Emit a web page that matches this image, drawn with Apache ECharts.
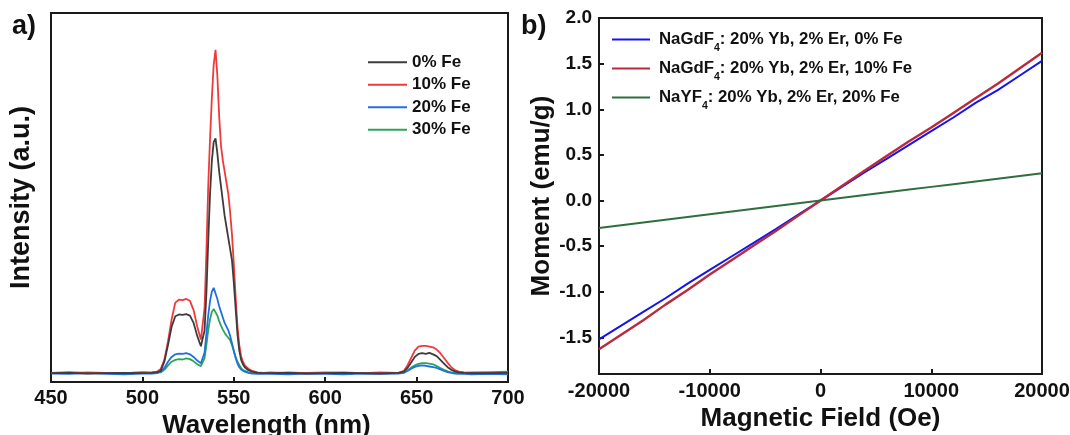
<!DOCTYPE html>
<html>
<head>
<meta charset="utf-8">
<script src="https://cdn.jsdelivr.net/npm/echarts@6/dist/echarts.min.js"></script>
<style>
html,body{margin:0;padding:0;background:#fff;}
#c{width:1070px;height:435px;}
</style>
</head>
<body>
<div id="c"></div>
<script>
// ---------- Panel a: emission spectra ----------
const wavelength = [450,460,470,480,490,500,505,508,510,512,514,516,518,520,522,524,526,528,530,532,533,534,535,536,537,538,539,540,541,542,543,544,545,546,547,548,549,550,551,552,553,554,555,556,558,560,563,566,570,580,590,600,610,620,630,640,643,645,647,649,651,653,655,657,659,661,663,665,667,669,671,673,676,680,690,700];
const fe0  = [2.4,2.5,2.3,2.4,2.5,2.4,2.5,2.7,3.0,5.5,10,15,17.8,18.3,18.2,18.4,18.0,16,12.5,9.7,9.5,14,24,38,51,60,65,66,62,57,53,49,45,42,39,36,33,27,20,13,8.5,6,4.8,4,3.2,2.8,2.5,2.4,2.4,2.5,2.3,2.4,2.5,2.4,2.3,2.5,2.8,3.8,5.3,6.8,7.6,7.8,7.6,7.9,7.5,7.0,6.0,5.0,4.0,3.3,2.9,2.6,2.5,2.4,2.4,2.5];
const fe10 = [2.5,2.7,2.4,2.5,2.4,2.6,2.6,2.8,3.5,6,11,17,21.5,22.3,22.2,22.5,22.0,19.5,15,11.5,11.4,20,35,53,66,77,86,90,83,72,64,60,57,54,51,46,40,32,23,15,10,7,5.5,4.5,3.6,3.0,2.6,2.5,2.4,2.6,2.4,2.5,2.6,2.4,2.5,2.5,3.0,4.5,6.5,8.5,9.6,9.8,9.8,9.6,9.4,8.8,7.8,6.5,5.2,4.0,3.2,2.8,2.6,2.5,2.4,2.6];
const fe20 = [2.3,2.2,2.4,2.2,2.1,2.3,2.3,2.4,2.8,3.8,5.5,6.8,7.5,7.7,7.6,7.8,7.5,6.8,5.8,5.1,5.2,8,13,18,22,24.5,25.5,25,22.5,20.5,19,17.5,16,15,14,12.5,10.5,8.5,6.5,5,4,3.4,3,2.8,2.5,2.3,2.2,2.3,2.2,2.1,2.3,2.2,2.1,2.3,2.2,2.3,2.5,3.0,3.6,4.1,4.4,4.5,4.4,4.2,4.0,3.8,3.4,3.0,2.7,2.5,2.3,2.2,2.2,2.1,2.2,2.1];
const fe30 = [2.5,2.4,2.6,2.5,2.4,2.6,2.5,2.6,2.6,3.3,4.5,5.5,6.0,6.2,6.1,6.4,6.2,5.6,4.8,4.3,4.4,6.5,10,14,17,19,19.8,19.5,18,16.5,15.3,14.2,13.3,12.6,12,11.3,10,8.3,6.8,5.5,4.6,3.8,3.2,2.9,2.6,2.5,2.4,2.5,2.6,2.4,2.5,2.6,2.5,2.4,2.6,2.5,2.5,3.1,3.9,4.5,4.9,5.1,5.1,5.0,4.8,4.3,3.8,3.3,2.9,2.6,2.5,2.6,2.5,2.6,2.7,2.8];

// ---------- Panel b: magnetization ----------
const field = [-20000,-18000,-16000,-14000,-12000,-10000,-8000,-6000,-4000,-2000,0,2000,4000,6000,8000,10000,12000,14000,16000,18000,20000];
const gd0  = [-1.52,-1.37,-1.22,-1.07,-0.91,-0.76,-0.61,-0.46,-0.31,-0.155,0,0.155,0.31,0.46,0.61,0.76,0.91,1.07,1.21,1.37,1.53];
const gd10 = [-1.63,-1.47,-1.31,-1.14,-0.98,-0.81,-0.65,-0.49,-0.33,-0.165,0,0.165,0.33,0.49,0.65,0.80,0.96,1.12,1.28,1.45,1.62];
const y20  = [-0.30,-0.27,-0.24,-0.21,-0.18,-0.15,-0.12,-0.09,-0.06,-0.03,0,0.03,0.06,0.09,0.12,0.15,0.18,0.21,0.24,0.27,0.30];
const momentTicks = [-1.5,-1.0,-0.5,0.0,0.5,1.0,1.5,2.0];

const namesA = ['0% Fe','10% Fe','20% Fe','30% Fe'];
const colorsA = ['#3c3c3c','#f03a3a','#2070e0','#2ca55a'];
const namesB = ['NaGdF4: 20% Yb, 2% Er, 0% Fe','NaGdF4: 20% Yb, 2% Er, 10% Fe','NaYF4: 20% Yb, 2% Er, 20% Fe'];
const colorsB = ['#1414f0','#b82a3c','#2f6e40'];

const FONT = 'Liberation Sans, Arial, sans-serif';
const zip = (xs, ys) => xs.map((x, i) => [x, ys[i]]);

const chart = echarts.init(document.getElementById('c'), null, {renderer: 'canvas'});
const axisBase = {
  axisLine: {show: true, onZero: false, lineStyle: {color: '#1a1a1a', width: 2}},
  axisTick: {show: true, inside: true, length: 5, lineStyle: {color: '#1a1a1a', width: 2}},
  splitLine: {show: false}
};

chart.setOption({
  animation: false,
  backgroundColor: '#ffffff',
  grid: [
    {left: 51, top: 13, width: 457, height: 369, show: true, borderColor: '#1a1a1a', borderWidth: 2, outerBoundsMode: 'none', containLabel: false},
    {left: 599, top: 18, width: 443, height: 356, show: true, borderColor: '#1a1a1a', borderWidth: 2, outerBoundsMode: 'none', containLabel: false}
  ],
  xAxis: [
    Object.assign({}, axisBase, {
      gridIndex: 0, type: 'value', min: 450, max: 700, interval: 50,
      axisLabel: {fontFamily: FONT, fontWeight: 'bold', fontSize: 20, color: '#111', margin: 6, formatter: v => String(v)},
      name: 'Wavelength (nm)', nameLocation: 'middle', nameGap: 27,
      nameTextStyle: {fontFamily: FONT, fontWeight: 'bold', fontSize: 26, color: '#111', padding: [0, 26, 0, 0]}
    }),
    Object.assign({}, axisBase, {
      gridIndex: 1, type: 'value', min: -20000, max: 20000, interval: 10000,
      axisLabel: {fontFamily: FONT, fontWeight: 'bold', fontSize: 20, color: '#111', margin: 7, formatter: v => String(v)},
      name: 'Magnetic Field (Oe)', nameLocation: 'middle', nameGap: 30,
      nameTextStyle: {fontFamily: FONT, fontWeight: 'bold', fontSize: 26, color: '#111'}
    })
  ],
  yAxis: [
    Object.assign({}, axisBase, {
      gridIndex: 0, type: 'value', min: 0, max: 100,
      axisTick: {show: false}, axisLabel: {show: false},
      name: 'Intensity (a.u.)', nameLocation: 'middle', nameGap: 16, nameRotate: 90,
      nameTextStyle: {fontFamily: FONT, fontWeight: 'bold', fontSize: 27, color: '#111'}
    }),
    Object.assign({}, axisBase, {
      gridIndex: 1, type: 'value', min: -1.9, max: 2.0,
      axisTick: {show: true, inside: true, length: 5, customValues: momentTicks, lineStyle: {color: '#1a1a1a', width: 2}},
      axisLabel: {fontFamily: FONT, fontWeight: 'bold', fontSize: 19, color: '#111', margin: 7,
                  customValues: momentTicks, formatter: v => v.toFixed(1)},
      name: 'Moment (emu/g)', nameLocation: 'middle', nameGap: 44, nameRotate: 90,
      nameTextStyle: {fontFamily: FONT, fontWeight: 'bold', fontSize: 26, color: '#111'}
    })
  ],
  legend: [
    {
      data: namesA, orient: 'vertical', left: 368, top: 51, padding: 0, icon: 'rect', itemWidth: 39, itemHeight: 2, itemGap: 0,
      textStyle: {fontFamily: FONT, fontWeight: 'bold', fontSize: 17, color: '#111', lineHeight: 22.5}
    },
    {
      data: namesB, orient: 'vertical', left: 612, top: 25, padding: 0, icon: 'rect', itemWidth: 38, itemHeight: 2, itemGap: 0,
      formatter: n => n.replace('F4', 'F{sub|4}'),
      textStyle: {fontFamily: FONT, fontWeight: 'bold', fontSize: 16.8, color: '#111', lineHeight: 29, padding: [0,0,0,4],
        rich: {sub: {fontFamily: FONT, fontWeight: 'bold', fontSize: 10.5, color: '#111', verticalAlign: 'bottom', padding: [8,0,0,0]}}}
    }
  ],
  graphic: [
    {type: 'text', left: 12, top: 13, style: {text: 'a)', fontFamily: FONT, fontWeight: 'bold', fontSize: 27, fill: '#111'}},
    {type: 'text', left: 521, top: 13, style: {text: 'b)', fontFamily: FONT, fontWeight: 'bold', fontSize: 27, fill: '#111'}}
  ],
  series: [
    ...[fe0, fe10, fe20, fe30].map((d, i) => ({
      type: 'line', name: namesA[i], xAxisIndex: 0, yAxisIndex: 0, data: zip(wavelength, d),
      showSymbol: false, symbol: 'none', color: colorsA[i], lineStyle: {width: 1.8, color: colorsA[i]},
      z: 4 - i
    })),
    ...[gd0, gd10, y20].map((d, i) => ({
      type: 'line', name: namesB[i], xAxisIndex: 1, yAxisIndex: 1, data: zip(field, d),
      showSymbol: false, symbol: 'none', color: colorsB[i], lineStyle: {width: i === 1 ? 2.4 : 2, color: colorsB[i]}
    }))
  ]
});
</script>
</body>
</html>
